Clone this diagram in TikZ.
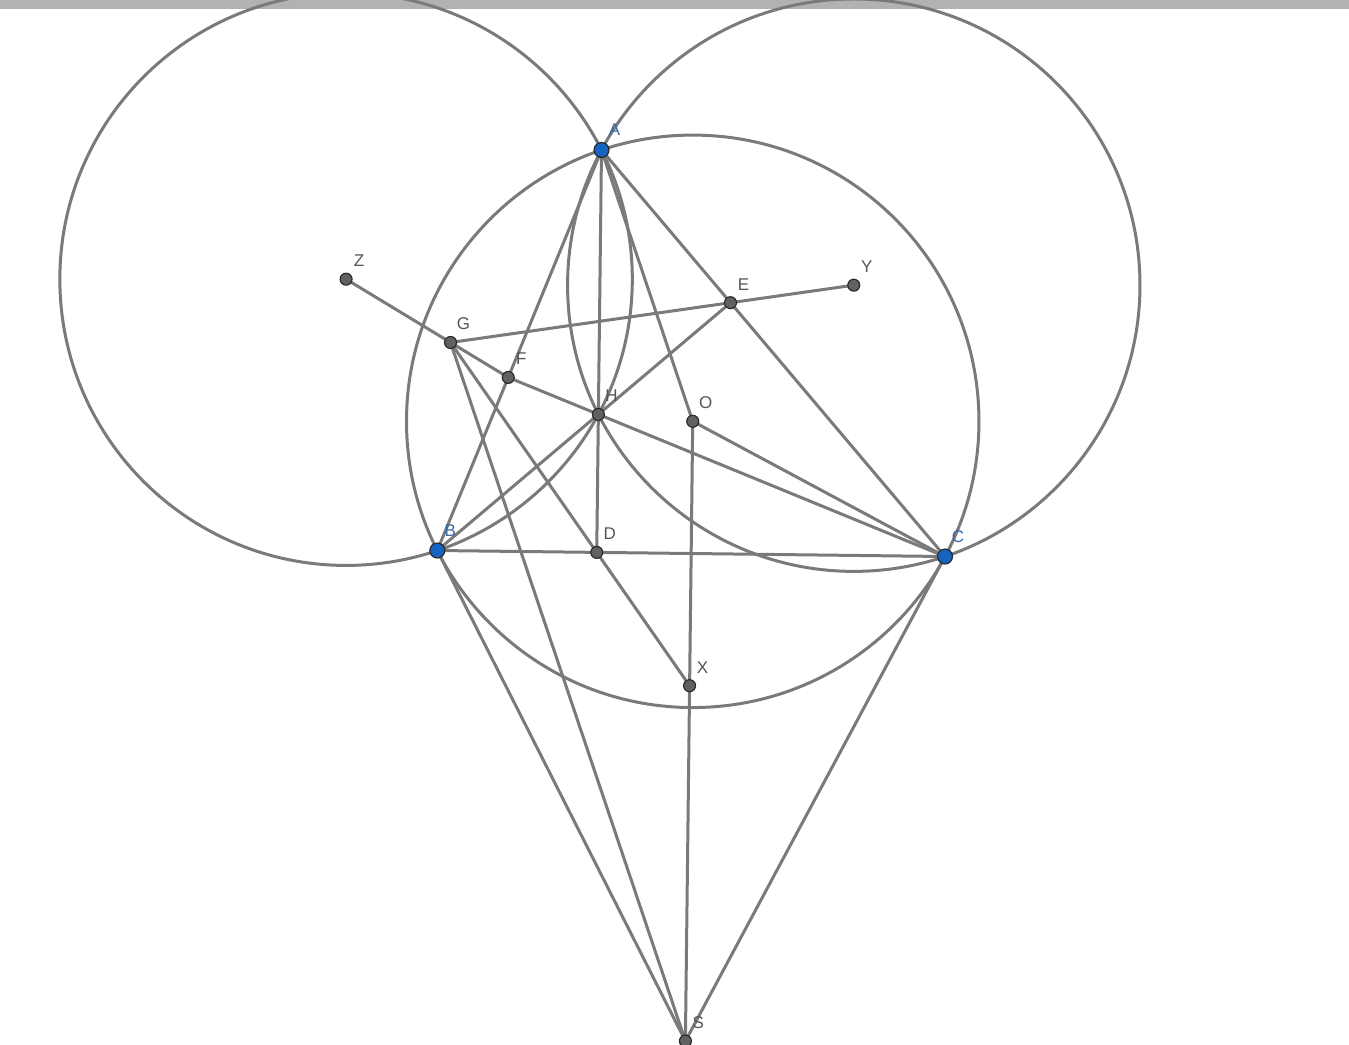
\documentclass[tikz,border=0pt]{standalone}
\usepackage{fontspec}
\setmainfont{Liberation Sans}
\usetikzlibrary{calc}
\definecolor{lineg}{RGB}{122,122,122}
\definecolor{barg}{RGB}{178,178,178}
\definecolor{ptblue}{RGB}{21,101,192}
\definecolor{ptgray}{RGB}{97,97,97}
\definecolor{lblblue}{RGB}{55,105,170}
\definecolor{lblgray}{RGB}{85,85,85}
\begin{document}
\begin{tikzpicture}[x=1pt,y=-1pt,
  seg/.style={draw=lineg,line width=3pt},
  freept/.style={circle,fill=ptblue,draw=black!85,line width=1.1pt,inner sep=0pt,minimum size=15pt},
  deppt/.style={circle,fill=ptgray,draw=black!85,line width=1.1pt,inner sep=0pt,minimum size=12pt},
  bluelbl/.style={text=lblblue,font=\fontsize{17}{17}\selectfont,inner sep=0pt},
  graylbl/.style={text=lblgray,font=\fontsize{17}{17}\selectfont,inner sep=0pt}]
\useasboundingbox (0,0) rectangle (1349,1044);
\clip (0,0) rectangle (1349,1044);
\fill[barg] (0,0) rectangle (1349,8.5);
% free points
\coordinate (A) at (601.5,150);
\coordinate (B) at (437.3,550.5);
\coordinate (C) at (945,556.5);
% circumcentre
\coordinate (mAB) at ($(A)!.5!(B)$);
\coordinate (mBC) at ($(B)!.5!(C)$);
\coordinate (pAB) at ($(mAB)!1!90:(B)$);
\coordinate (pBC) at ($(mBC)!1!90:(C)$);
\coordinate (O) at (intersection of mAB--pAB and mBC--pBC);
% feet of altitudes, orthocentre
\coordinate (D) at ($(B)!(A)!(C)$);
\coordinate (E) at ($(A)!(B)!(C)$);
\coordinate (F) at ($(A)!(C)!(B)$);
\coordinate (H) at (intersection of A--D and B--E);
% reflections of O
\coordinate (Z) at ($(A)+(B)-(O)$);
\coordinate (Y) at ($(A)+(C)-(O)$);
\coordinate (X) at ($(B)+(C)-(O)$);
% pole of BC
\coordinate (tB) at ($(B)!1!90:(O)$);
\coordinate (tC) at ($(C)!1!90:(O)$);
\coordinate (S) at (intersection of B--tB and C--tC);
\coordinate (G) at (intersection of Y--E and X--D);
% circles
\draw[seg] let \p1=($(A)-(O)$), \n1={veclen(\x1,\y1)} in (O) circle[radius=\n1];
\draw[seg] let \p1=($(A)-(Z)$), \n1={veclen(\x1,\y1)} in (Z) circle[radius=\n1];
\draw[seg] let \p1=($(A)-(Y)$), \n1={veclen(\x1,\y1)} in (Y) circle[radius=\n1];
% segments
\draw[seg] (A) -- (B);
\draw[seg] (B) -- (C);
\draw[seg] (C) -- (A);
\draw[seg] (A) -- (D);
\draw[seg] (B) -- (E);
\draw[seg] (C) -- (F);
\draw[seg] (Z) -- (F);
\draw[seg] (G) -- (Y);
\draw[seg] (G) -- (X);
\draw[seg] (G) -- (S);
\draw[seg] (A) -- (O);
\draw[seg] (O) -- (S);
\draw[seg] (O) -- (C);
\draw[seg] (B) -- (S);
\draw[seg] (C) -- (S);
% points
\foreach \p in {Z,G,F,E,Y,H,O,D,X,S}{\node[deppt] (n\p) at (\p) {};}
\foreach \p in {A,B,C}{\node[freept] (n\p) at (\p) {};}
% labels
\foreach \p in {A,B,C}{\node[bluelbl] (l\p) at ($(\p)+(13,-20)$) {\p};}
\foreach \p in {D,E,F,G,H,O,X,Y,Z,S}{\node[graylbl] (l\p) at ($(\p)+(13,-18.5)$) {\p};}
\end{tikzpicture}
\end{document}
